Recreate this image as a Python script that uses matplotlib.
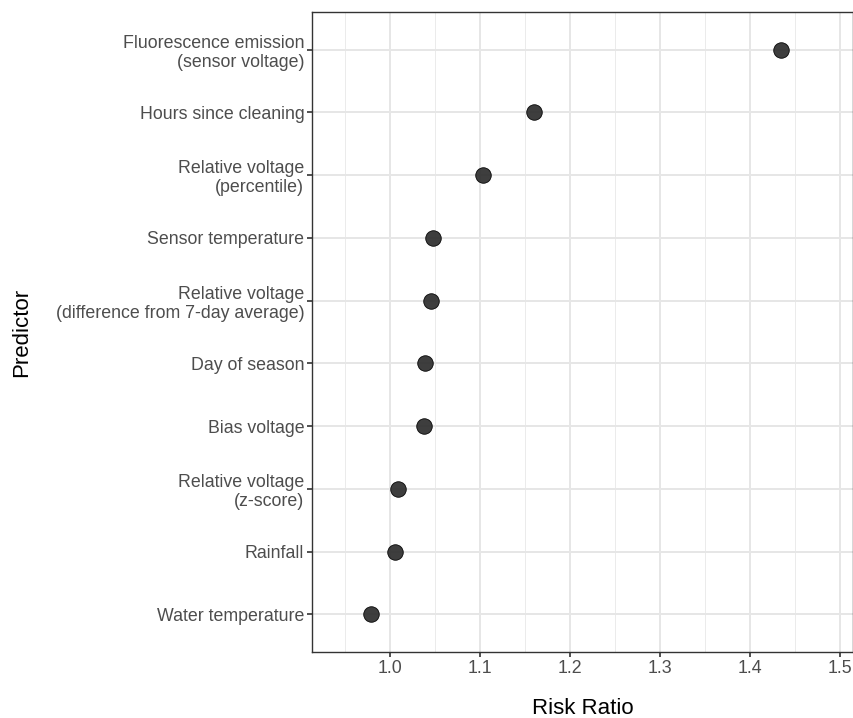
import matplotlib
matplotlib.use("Agg")
import matplotlib.pyplot as plt
import numpy as np

predictors = [
    "Water temperature",
    "Rainfall",
    "Relative voltage\n(z-score)",
    "Bias voltage",
    "Day of season",
    "Relative voltage\n(difference from 7-day average)",
    "Sensor temperature",
    "Relative voltage\n(percentile)",
    "Hours since cleaning",
    "Fluorescence emission\n(sensor voltage)",
]
risk_ratio = [0.979, 1.006, 1.009, 1.038, 1.039, 1.046, 1.048, 1.103, 1.160, 1.434]
x_ticks = [1.0, 1.1, 1.2, 1.3, 1.4, 1.5]
x_tick_labels = ["1.0", "1.1", "1.2", "1.3", "1.4", "1.5"]

plt.rcParams['font.family'] = ['Liberation Sans', 'DejaVu Sans']

fig = plt.figure(figsize=(8.54, 7.18), dpi=100)
ax = fig.add_axes([312/854, 66/718, 541/854, 640/718])

y = np.arange(1, len(predictors) + 1)
ax.set_xlim(0.9133, 1.5144)
ax.set_ylim(0.4, len(predictors) + 0.6)

# grid
for xv in np.arange(0.95, 1.55, 0.1):
    ax.axvline(xv, color="#EBEBEB", lw=0.7, zorder=0)
for xv in x_ticks:
    ax.axvline(xv, color="#E6E6E6", lw=1.4, zorder=0)
for yv in y:
    ax.axhline(yv, color="#E6E6E6", lw=1.4, zorder=0)

ax.scatter(risk_ratio, y, s=125, color="#333333", edgecolor="black",
           linewidth=0.6, alpha=0.95, zorder=3)

ax.set_yticks(y)
ax.set_yticklabels(predictors, fontsize=12.8, color="#4D4D4D", linespacing=1.18)
ax.set_xticks(x_ticks)
ax.set_xticklabels(x_tick_labels, fontsize=12.8, color="#4D4D4D")
ax.tick_params(axis="both", length=3.5, width=1.2, color="#333333", pad=2)

for s in ax.spines.values():
    s.set_color("#333333")
    s.set_linewidth(1.0)

ax.set_xlabel("Risk Ratio", fontsize=16)
ax.set_ylabel("Predictor", fontsize=16)
ax.xaxis.set_label_coords(0.5, (652 - 709) / 640)
ax.xaxis.label.set_va("center")
ax.yaxis.set_label_coords((22 - 312) / 541, 0.5)
ax.yaxis.label.set_va("center")

fig.savefig("out.png", dpi=100)
